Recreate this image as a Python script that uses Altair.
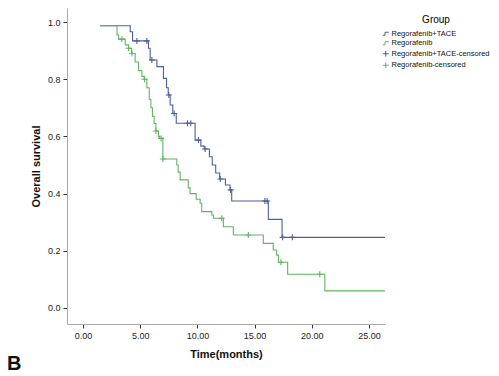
import altair as alt
import pandas as pd

# Regorafenib+TACE step curve (time in months, survival after step)
tace_t = [1.5, 4.13, 4.33, 5.72, 5.87, 6.46, 7.03, 7.3, 7.45, 7.62, 7.85, 8.15, 9.8, 10.3,
          10.6, 11.05, 11.3, 11.6, 11.95, 12.45, 12.85, 13.0, 16.2, 17.4, 26.4]
tace_s = [0.987, 0.966, 0.934, 0.908, 0.867, 0.844, 0.803, 0.77, 0.745, 0.71, 0.68, 0.646, 0.587, 0.566,
          0.556, 0.529, 0.5, 0.472, 0.451, 0.43, 0.413, 0.374, 0.31, 0.247, 0.247]
tace_cens_t = [4.71, 5.58, 6.02, 7.5, 7.97, 9.13, 9.42, 10.09, 10.67, 12.0, 12.9, 15.9, 16.1, 17.45, 18.3]
tace_cens_s = [0.934, 0.934, 0.867, 0.745, 0.68, 0.646, 0.646, 0.587, 0.556, 0.451, 0.413, 0.374, 0.374, 0.247, 0.247]

# Regorafenib step curve
rego_t = [1.5, 2.97, 3.11, 3.69, 3.98, 4.25, 4.56, 4.85, 5.15, 5.35, 5.58, 5.79, 5.93, 6.07, 6.22,
          6.37, 6.6, 6.7, 6.98, 8.2, 8.32, 8.49, 9.2, 9.36, 9.89, 10.24, 10.38, 11.26, 11.4, 12.27,
          13.14, 15.76, 16.63, 16.93, 17.08, 17.89, 21.14, 26.4]
rego_s = [0.987, 0.955, 0.94, 0.92, 0.908, 0.89, 0.86, 0.83, 0.81, 0.80, 0.77, 0.73, 0.70, 0.67, 0.645,
          0.619, 0.6, 0.593, 0.521, 0.5, 0.475, 0.448, 0.42, 0.4, 0.38, 0.366, 0.337, 0.325, 0.314, 0.284,
          0.255, 0.226, 0.203, 0.185, 0.16, 0.118, 0.06, 0.06]
rego_cens_t = [3.4, 3.98, 4.28, 5.38, 6.37, 6.83, 6.98, 12.13, 14.45, 17.3, 20.7]
rego_cens_s = [0.94, 0.908, 0.89, 0.80, 0.619, 0.593, 0.521, 0.314, 0.255, 0.16, 0.118]

groups = ["Regorafenib+TACE", "Regorafenib", "Regorafenib+TACE-censored", "Regorafenib-censored"]
colors = ["#4f5f9c", "#62b462", "#4f5f9c", "#62b462"]
step_path = "M-1,0.5H-0.25V-0.5H1"
cross_path = "M-1,0H1M0,-1V1"
shapes = [step_path, step_path, cross_path, cross_path]

lines = pd.concat([
    pd.DataFrame({"t": tace_t, "s": tace_s, "Group": groups[0]}),
    pd.DataFrame({"t": rego_t, "s": rego_s, "Group": groups[1]}),
])
cens = pd.concat([
    pd.DataFrame({"t": tace_cens_t, "s": tace_cens_s, "Group": groups[2]}),
    pd.DataFrame({"t": rego_cens_t, "s": rego_cens_s, "Group": groups[3]}),
])

xs = alt.Scale(domain=[-1.4, 26.4], nice=False, zero=False)
ys = alt.Scale(domain=[-0.056, 1.049], nice=False, zero=False)
cs = alt.Scale(domain=groups, range=colors)
ss = alt.Scale(domain=groups, range=shapes)

x_enc = alt.X("t:Q", scale=xs, title="Time(months)",
              axis=alt.Axis(values=[0, 5, 10, 15, 20, 25], format=".2f", titlePadding=8))
y_enc = alt.Y("s:Q", scale=ys, title="Overall survival",
              axis=alt.Axis(values=[0, 0.2, 0.4, 0.6, 0.8, 1.0], format=".1f", titlePadding=6))

legend = alt.Legend(title="Group", orient="none", legendX=315, legendY=7,
                    titleAnchor="middle", titleFontSize=10, titleFontWeight="normal",
                    labelFontSize=7.5, labelLimit=0,
                    symbolSize=36, rowPadding=0.5, labelOffset=2,
                    symbolStrokeWidth=1, symbolFillColor="transparent")

line_layer = alt.Chart(lines).mark_line(interpolate="step-after", strokeWidth=1.1).encode(
    x=x_enc, y=y_enc,
    color=alt.Color("Group:N", scale=cs, legend=legend),
    detail="Group:N",
)

cens_layer = alt.Chart(cens).mark_point(filled=False, size=36, strokeWidth=1.1, opacity=1).encode(
    x=x_enc, y=y_enc,
    color=alt.Color("Group:N", scale=cs, legend=legend),
    shape=alt.Shape("Group:N", scale=ss, legend=legend),
)

label_b = alt.Chart(pd.DataFrame({"txt": ["B"]})).mark_text(
    align="left", baseline="alphabetic", fontSize=20, fontWeight="bold",
    font="Liberation Sans", color="#111"
).encode(text="txt:N", x=alt.value(-60), y=alt.value(362))

chart = alt.layer(line_layer, cens_layer, label_b).properties(
    width=318, height=316,
    autosize=alt.AutoSizeParams(type="none"),
    padding={"left": 59, "top": 0, "right": 106, "bottom": 50},
).configure_view(stroke=None).configure_axis(
    grid=False, domainColor="#aaaaaa", tickColor="#333333", tickSize=4,
    labelFont="Liberation Sans", labelFontSize=9, labelColor="#222222",
    titleFont="Liberation Sans", titleFontSize=11, titleFontWeight="bold", titleColor="#111111",
    labelPadding=3,
).configure_legend(labelFont="Liberation Sans", titleFont="Liberation Sans", labelColor="#111111")

chart.save("out.html", embed_options={"renderer": "svg", "actions": False})
